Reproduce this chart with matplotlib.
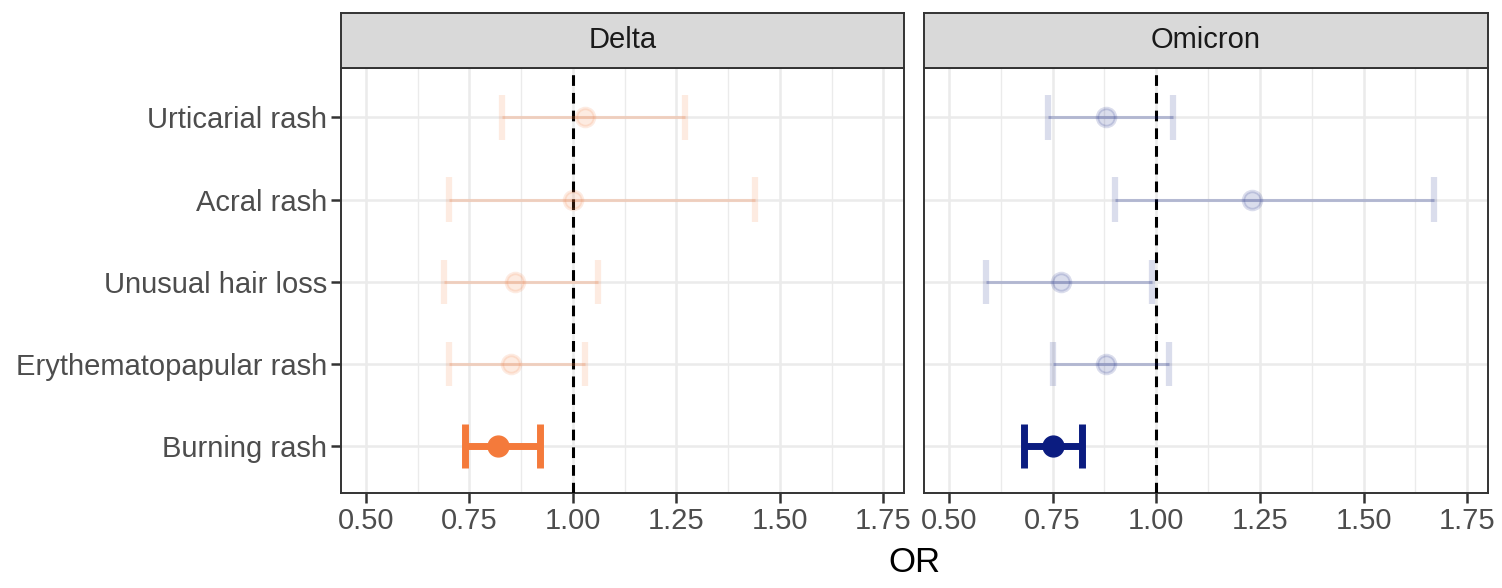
import matplotlib.pyplot as plt
import numpy as np

plt.rcParams['font.family'] = ['Liberation Sans', 'DejaVu Sans']

# categories from bottom to top
symptoms = ['Burning rash', 'Erythematopapular rash', 'Unusual hair loss',
            'Acral rash', 'Urticarial rash']
variants = ['Delta', 'Omicron']

delta_or = [0.82, 0.85, 0.86, 1.00, 1.03]
delta_lo = [0.74, 0.70, 0.69, 0.70, 0.83]
delta_hi = [0.92, 1.03, 1.06, 1.44, 1.27]

omicron_or = [0.75, 0.88, 0.77, 1.23, 0.88]
omicron_lo = [0.68, 0.75, 0.59, 0.90, 0.74]
omicron_hi = [0.82, 1.03, 0.99, 1.67, 1.04]

xticks = [0.50, 0.75, 1.00, 1.25, 1.50, 1.75]
highlight = 'Burning rash'
colors = {'Delta': '#F47A3B', 'Omicron': '#0B1C80'}

data = {
    'Delta': (delta_or, delta_lo, delta_hi),
    'Omicron': (omicron_or, omicron_lo, omicron_hi),
}

W, H = 1502, 588
fig = plt.figure(figsize=(W / 100, H / 100), dpi=100)

def px_axes(l, t, r, b):
    return fig.add_axes([l / W, 1 - b / H, (r - l) / W, (b - t) / H])

panels = [(341, 904), (924, 1488)]
ypos = np.arange(len(symptoms))

for i, (v, (l, r)) in enumerate(zip(variants, panels)):
    ax = px_axes(l, 68, r, 493)
    ors, los, his = data[v]
    col = colors[v]

    ax.set_xlim(0.44, 1.80)
    ax.set_ylim(-0.57, 4.6)

    # grid
    for x in xticks:
        ax.axvline(x, color='#EBEBEB', lw=1.8, zorder=0)
    for x in np.array(xticks[:-1]) + 0.125:
        ax.axvline(x, color='#EBEBEB', lw=1.0, zorder=0)
    for y in ypos:
        ax.axhline(y, color='#EBEBEB', lw=1.8, zorder=0)

    ax.axvline(1.0, color='black', lw=2.2, ls=(0, (3.5, 2.3)), zorder=3)

    for y, s, o, lo, hi in zip(ypos, symptoms, ors, los, his):
        if s == highlight:
            ax.plot([lo, hi], [y, y], color=col, lw=5, solid_capstyle='butt', zorder=4)
            ax.errorbar([lo, hi], [y, y], yerr=0.27, fmt='none', ecolor=col,
                        elinewidth=5, capsize=0, zorder=4)
            ax.plot(o, y, 'o', color=col, ms=15, zorder=5)
        else:
            ax.plot([lo, hi], [y, y], color=col, lw=2.2, alpha=0.25,
                    solid_capstyle='butt', zorder=4)
            ax.errorbar([lo, hi], [y, y], yerr=0.27, fmt='none', ecolor=col,
                        elinewidth=4.5, capsize=0, alpha=0.15, zorder=4)
            ax.plot(o, y, 'o', color=col, ms=13, alpha=0.15, mew=2.5, zorder=5)

    ax.set_xticks(xticks)
    ax.set_xticklabels(['%.2f' % x for x in xticks])
    ax.set_yticks(ypos)
    ax.tick_params(labelsize=21, colors='#4D4D4D', length=7, width=1.8, pad=3)
    ax.tick_params(axis='both', which='both', color='#333333')
    if i == 0:
        ax.set_yticklabels(symptoms)
    else:
        ax.set_yticklabels([])
        ax.tick_params(axis='y', length=0)
    for sp in ax.spines.values():
        sp.set_color('#333333')
        sp.set_linewidth(1.4)

    # facet strip
    sax = px_axes(l, 13, r, 68)
    sax.set_facecolor('#D9D9D9')
    sax.set_xticks([])
    sax.set_yticks([])
    for sp in sax.spines.values():
        sp.set_color('#333333')
        sp.set_linewidth(1.4)
    sax.text(0.5, 0.5, v, ha='center', va='center', fontsize=21, color='#1A1A1A',
             transform=sax.transAxes)

fig.text((341 + 1488) / 2 / W, 1 - 562 / H, 'OR', ha='center', va='center',
         fontsize=25, color='black')

fig.savefig('out.png', dpi=100)
